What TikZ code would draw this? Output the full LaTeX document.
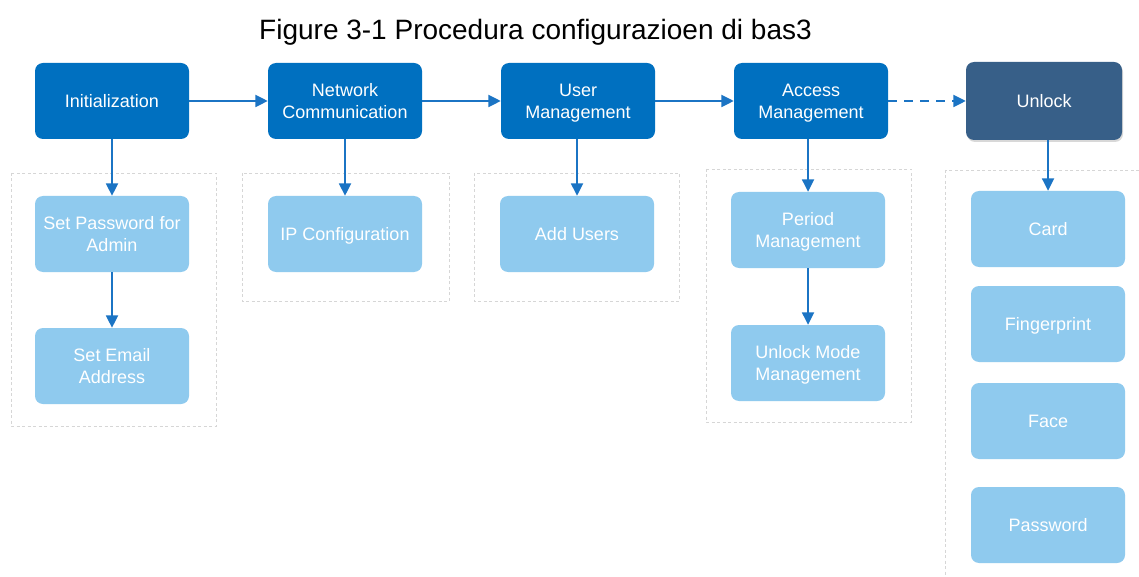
\documentclass[tikz,border=0pt]{standalone}
\usepackage{fontspec}
\setmainfont{Liberation Sans}
\usetikzlibrary{arrows.meta,shadows}
\definecolor{mainblue}{HTML}{0070C0}
\definecolor{lightblue}{HTML}{8FCAEE}
\definecolor{darkslate}{HTML}{375F88}
\definecolor{arrowblue}{HTML}{1B74C4}
\definecolor{groupgray}{HTML}{D6D6D6}
\tikzset{
  box/.style={rectangle, rounded corners=8pt, minimum width=154pt, minimum height=76pt, inner sep=0pt, align=center, text=white, text depth=0pt, font=\fontsize{18}{22}\selectfont},
  mainbox/.style={box, fill=mainblue},
  subbox/.style={box, fill=lightblue},
  unlockbox/.style={box, fill=darkslate, minimum width=156pt, minimum height=78pt, drop shadow={opacity=0.3, shadow xshift=1pt, shadow yshift=-2pt}},
  conn/.style={draw=arrowblue, line width=1.8pt, -{Triangle[length=12.5pt,width=12pt]}},
  groupbox/.style={draw=groupgray, line width=0.8pt, dash pattern=on 3pt off 2.5pt}
}
\begin{document}
\begin{tikzpicture}[x=1pt,y=-1pt]
\useasboundingbox (0,0) rectangle (1139,577);
\fill[white] (0,0) rectangle (1139,577);
% groups
\draw[groupbox] (11,173) rectangle (216,426);
\draw[groupbox] (242,173) rectangle (449,301);
\draw[groupbox] (474,173) rectangle (679,301);
\draw[groupbox] (706,169) rectangle (911,422);
\draw[groupbox] (945,170) rectangle (1150,590);
% title
\node[font=\fontsize{28}{32}\selectfont, anchor=base] (title) at (535.5,40) {Figure 3-1 Procedura configurazioen di bas3};
% main row
\node[mainbox] (init) at (112,101) {Initialization};
\node[mainbox] (net) at (345,101) {Network\\Communication};
\node[mainbox] (user) at (578,101) {User\\Management};
\node[mainbox] (acc) at (811,101) {Access\\Management};
\node[unlockbox] (unl) at (1044,101) {Unlock};
% sub boxes
\node[subbox] (pwd) at (112,234) {Set Password for\\Admin};
\node[subbox] (mail) at (112,366) {Set Email\\Address};
\node[subbox] (ip) at (345,234) {IP Configuration};
\node[subbox] (add) at (577,234) {Add Users};
\node[subbox] (per) at (808,230) {Period\\Management};
\node[subbox] (mode) at (808,363) {Unlock Mode\\Management};
\node[subbox] (card) at (1048,229) {Card};
\node[subbox] (fing) at (1048,324) {Fingerprint};
\node[subbox] (face) at (1048,421) {Face};
\node[subbox] (pass) at (1048,525) {Password};
% connectors
\draw[conn] (init) -- (net);
\draw[conn] (net) -- (user);
\draw[conn] (user) -- (acc);
\draw[conn, dash pattern=on 9pt off 7pt] (acc) -- (unl);
\draw[conn] (init.south -| pwd.north) -- (pwd.north);
\draw[conn] (pwd) -- (mail);
\draw[conn] (net.south -| ip.north) -- (ip.north);
\draw[conn] (user.south -| add.north) -- (add.north);
\draw[conn] (acc.south -| per.north) -- (per.north);
\draw[conn] (per) -- (mode);
\draw[conn] (unl.south -| card.north) -- (card.north);
\end{tikzpicture}
\end{document}
